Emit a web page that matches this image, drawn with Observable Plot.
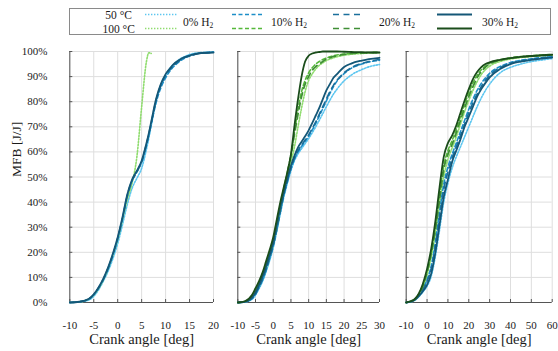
<!DOCTYPE html>
<html>
<head>
<meta charset="utf-8">
<script src="https://cdn.jsdelivr.net/npm/d3@7"></script>
<script src="https://cdn.jsdelivr.net/npm/@observablehq/plot@0.6"></script>
<style>
  html, body { margin: 0; padding: 0; background: #fff; }
  #chart { position: relative; width: 558px; height: 351px; overflow: hidden; font-family: 'Liberation Serif', 'Times New Roman', serif; color: #1a1a1a; }
  #chart svg.panel { position: absolute; top: 0; background: transparent !important; overflow: visible; }
  #chart svg.panel, #chart svg.panel text, #chart svg.panel g { font-family: 'Liberation Serif', 'Times New Roman', serif !important; }
  #legend { position: absolute; left: 69px; top: 8px; width: 482px; height: 27px; box-sizing: border-box; border: 1px solid #8a8a8a; background: #fff; }
</style>
</head>
<body>
<div id="chart"><div id="legend"></div></div>
<script>
// ---------- data ----------
const yTicks = [0, 10, 20, 30, 40, 50, 60, 70, 80, 90, 100];
const xTicks1 = [-10, -5, 0, 5, 10, 15, 20];
const xTicks2 = [-10, -5, 0, 5, 10, 15, 20, 25, 30];
const xTicks3 = [-10, 0, 10, 20, 30, 40, 50, 60];

const seriesNames = ["0% H", "10% H", "20% H", "30% H"];
const tempNames = ["50 °C", "100 °C"];

// Panel 1
const p1_x   = [-10,-8,-6,-5,-4,-3,-2,-1,0,1,2,3,4,5,6,6.5,7,8,9,10,11,12,13,14,15,17,20];
const p1_b0  = [0,0.2,1,2.5,5,8.5,12.5,17.5,23.5,31,39,45.5,49.5,53.5,61,65.5,70.5,80,86.5,90.5,93.5,95.5,97,98,98.8,99.5,99.8];
const p1_b10 = [0,0.3,1.4,3.1,5.8,9.2,13.6,19,25.5,33.5,42.5,48.5,52,56,62.5,66.5,71,79.5,85.5,89.5,92.5,94.6,96.2,97.4,98.2,99.3,99.8];
const p1_b20 = [0,0.3,1.4,3.1,5.8,9.2,13.6,19,25.5,33.5,42.5,48.5,52,56,63,67,71.5,80.5,86.5,90.5,93,95,96.5,97.6,98.3,99.2,99.6];
const p1_b30 = [0,0.3,1.5,3.3,6,9.5,14,19.5,26,34,43,49,52.5,56.5,63.5,67.5,72,81,87,91,93.5,95.5,96.8,97.8,98.4,99.3,99.6];
const p1_g0  = [0,0.3,1.4,3,5.5,9,13.5,19,25,33,41,47.5,58,78,96,99.5,99.2,null,null,null,null,null,null,null,null,null,null];

// Panel 2
const p2_x   = [-10,-8,-6,-5,-4,-3,-2,-1,0,1,2,3,4,5,6,7,8,9,10,11,12,13,14,15,16,17,18,20,22,25,27,30];
const p2_b0  = [0,0.2,1.3,3,5.5,8.5,12.3,16.8,21.8,28.3,35.3,42,47.5,52.5,56.5,59.2,61.3,63.3,65.3,67.6,70,72.6,75.3,78,80.6,83,85,88.3,90.6,92.8,93.9,94.8];
const p2_b10 = [0,0.3,1.5,3.3,6,9,13,17.5,22.5,29,36,42.8,48.3,53.2,57.2,60,62.2,64.2,66.2,68.7,71.4,74.3,77.3,80.3,83.3,86,88.2,91.2,93.3,95,95.8,96.5];
const p2_b20 = [0,0.3,1.6,3.4,6.2,9.3,13.3,17.8,22.8,29.3,36.3,43,48.5,53.5,57.5,60.5,62.7,64.7,66.8,69.3,72,75,78,81,84,86.5,88.5,91.5,93.5,95.2,96,96.8];
const p2_b30 = [0,0.3,2,4,7,10.5,14.5,19,24,31,38,44,49.5,54.5,58.5,61.8,64,66.2,68.6,71.5,74.5,77.5,81,84.5,87,89.5,91,93.8,95.2,96.4,97,97.5];
const p2_g0  = [0,0.3,2,4,6.5,9.5,13.5,18,23,29.5,37,44,50,56,62,70,77.5,84,88.5,91,93,94.5,95.5,96.4,97,97.5,97.9,98.5,98.9,99.2,99.4,99.5];
const p2_g10 = [0,0.4,2.6,5,7.8,11.3,15.5,20,25,31.5,38.5,45.5,52,59,68,77,84,88.5,91.5,93.5,95,96,96.8,97.4,97.9,98.3,98.6,99,99.3,99.5,99.6,99.7];
const p2_g20 = [0,0.4,2.5,4.8,7.5,11,15,19.5,24.5,31,38,45,51.5,58.5,67,75,82,87,90,92.5,94,95,96,97,97.5,98,98.3,98.8,99.2,99.4,99.5,99.6];
const p2_g30 = [0,0.5,3,5.7,8.5,12,16.5,21,26,33,40,46,52,59,70.5,81,90,96,98.3,99.2,99.6,99.8,100,100,100,100,100,99.9,99.8,99.7,99.6,99.6];

// Panel 3
const p3_x   = [-10,-8,-6,-4,-2,0,2,4,6,8,10,12,14,16,18,20,22,24,26,28,30,35,40,45,50,55,60];
const p3_b0  = [0,0.2,0.8,2.2,4.2,6.5,10.5,18.5,29,40,47.5,53.5,58,62,66,70,74,78,81.5,84.5,87,91.5,93.7,95,96,96.6,97.2];
const p3_b10 = [0,0.3,1.1,2.9,5.5,9,14.5,24,36,47,54,59,63.5,68,72.5,77,81,84.5,87.3,89.5,91.3,94,95.6,96.5,97.1,97.6,98];
const p3_b20 = [0,0.3,1.1,2.8,5.2,8.5,13.5,22.5,34,45,52,57.5,62,66.5,71,75.5,79.5,83,86,88.5,90.5,93.5,95.3,96.2,96.9,97.4,97.8];
const p3_b30 = [0,0.3,1,2.5,4.5,7,11.5,20,31,42,49,56,60.5,65,70,74,78,82,85,87.5,89.7,93,95,96,96.7,97.2,97.6];
const p3_g0  = [0,0.3,1,2.8,6,11,18,27.5,39,50,57,61.5,66,71,76,80.5,84.5,88,90.8,92.8,94.2,96,97,97.6,98,98.3,98.5];
const p3_g10 = [0,0.4,1.2,3.2,7,12.5,20.3,30.5,43,54.5,60.5,64.5,69,74,79,83.5,87.5,90.5,92.7,94.2,95.3,96.7,97.5,98,98.3,98.6,98.8];
const p3_g20 = [0,0.4,1.1,3,6.5,12,19.5,29,41,53,59,63,67.5,72.5,77.5,82,86,89.5,92,93.8,95,96.5,97.3,97.8,98.1,98.4,98.6];
const p3_g30 = [0,0.5,1.3,3.5,7.5,13.4,21.5,32.5,46,58,63.5,66.5,70.5,75.5,80.5,85,89,91.8,93.8,95,95.7,96.7,97.4,97.9,98.2,98.5,98.7];

// ---------- styles ----------
const styleOf = {
  b0:  {stroke: "#5cc6f0", dash: "1.4,1.6", w: 1.6},
  g0:  {stroke: "#8fdc6e", dash: "1.4,1.6", w: 1.6},
  b10: {stroke: "#1c8ec8", dash: "4,2.5", w: 1.6},
  g10: {stroke: "#55b83a", dash: "4,2.5", w: 1.6},
  b20: {stroke: "#1a6f9c", dash: "6,4.5", w: 1.7},
  g20: {stroke: "#3f8e35", dash: "6,4.5", w: 1.7},
  b30: {stroke: "#145777", dash: null, w: 1.8},
  g30: {stroke: "#1b4d1b", dash: null, w: 1.8}
};
const drawOrder = ["b0", "g0", "b10", "g10", "b20", "g20", "b30", "g30"];

const FONT = "'Liberation Serif', 'Times New Roman', serif";
const H = 351, MT = 51, MB = 49;

function rows(xs, ys) {
  return xs.map((x, i) => ({x, y: ys[i]})).filter(d => d.y != null);
}

function panel({left, width, mL, mR, xDomain, xTicks, series, showY}) {
  const plotW = width - mL - mR;
  const plotH = H - MT - MB;
  const marks = [
    Plot.gridX(xTicks, {stroke: "#dedede", strokeOpacity: 1}),
    Plot.gridY(yTicks, {stroke: "#dedede", strokeOpacity: 1}),
    Plot.ruleX([xDomain[0]], {stroke: "#555"}),
    Plot.ruleY([0], {stroke: "#555"}),
    Plot.tickY(yTicks, {y: d => d, insetRight: plotW - 3, stroke: "#555"}),
    Plot.tickX(xTicks, {x: d => d, insetTop: plotH - 3, stroke: "#555"}),
    Plot.axisX(xTicks, {tickSize: 0, tickPadding: 19, tickFormat: d => String(d), label: null, fontSize: 11}),
    Plot.text(["Crank angle [deg]"], {frameAnchor: "bottom", dy: 41.5, fontSize: 14.5})
  ];
  for (const key of drawOrder) {
    if (!series[key]) continue;
    const s = styleOf[key];
    marks.push(Plot.line(series[key], {x: "x", y: "y", stroke: s.stroke, strokeWidth: s.w,
      strokeDasharray: s.dash || undefined, curve: "monotone-x"}));
  }
  if (showY) {
    marks.push(Plot.axisY(yTicks, {tickSize: 0, tickPadding: 22.5, tickFormat: d => d + "%", label: null, fontSize: 11}));
    marks.push(Plot.text(["MFB [J/J]"], {frameAnchor: "left", dx: -53, rotate: -90, fontSize: 13.5}));
  }
  const svg = Plot.plot({
    width, height: H,
    marginLeft: mL, marginRight: mR, marginTop: MT, marginBottom: MB,
    x: {domain: xDomain},
    y: {domain: [0, 100], axis: showY ? undefined : null},
    style: {fontFamily: FONT, background: "transparent", overflow: "visible", color: "#1a1a1a"},
    marks
  });
  svg.classList.add("panel");
  svg.style.left = left + "px";
  return svg;
}

const chart = document.getElementById("chart");
chart.appendChild(panel({
  left: 0, width: 220, mL: 69.3, mR: 7, xDomain: [-10, 20], xTicks: xTicks1, showY: true,
  series: {b0: rows(p1_x, p1_b0), b10: rows(p1_x, p1_b10), b20: rows(p1_x, p1_b20), b30: rows(p1_x, p1_b30), g0: rows(p1_x, p1_g0)}
}));
chart.appendChild(panel({
  left: 225, width: 160, mL: 12.3, mR: 6, xDomain: [-10, 30], xTicks: xTicks2, showY: false,
  series: {b0: rows(p2_x, p2_b0), b10: rows(p2_x, p2_b10), b20: rows(p2_x, p2_b20), b30: rows(p2_x, p2_b30),
           g0: rows(p2_x, p2_g0), g10: rows(p2_x, p2_g10), g20: rows(p2_x, p2_g20), g30: rows(p2_x, p2_g30)}
}));
chart.appendChild(panel({
  left: 390, width: 168, mL: 15.7, mR: 6.3, xDomain: [-10, 60], xTicks: xTicks3, showY: false,
  series: {b0: rows(p3_x, p3_b0), b10: rows(p3_x, p3_b10), b20: rows(p3_x, p3_b20), b30: rows(p3_x, p3_b30),
           g0: rows(p3_x, p3_g0), g10: rows(p3_x, p3_g10), g20: rows(p3_x, p3_g20), g30: rows(p3_x, p3_g30)}
}));

// ---------- legend ----------
const legendDiv = document.getElementById("legend");
const NS = "http://www.w3.org/2000/svg";
const lsvg = document.createElementNS(NS, "svg");
lsvg.setAttribute("width", 480); lsvg.setAttribute("height", 25);
lsvg.style.fontFamily = FONT; lsvg.style.fontSize = "11.5px";
legendDiv.appendChild(lsvg);
const ox = 70, oy = 9;
function el(name, attrs, text) {
  const e = document.createElementNS(NS, name);
  for (const k in attrs) e.setAttribute(k, attrs[k]);
  if (text != null) e.textContent = text;
  lsvg.appendChild(e);
  return e;
}
el("text", {x: 118.7 - ox, y: 19 - oy, "text-anchor": "middle", fill: "#1a1a1a"}, tempNames[0]);
el("text", {x: 118.7 - ox, y: 32.5 - oy, "text-anchor": "middle", fill: "#1a1a1a"}, tempNames[1]);
const legendPos = [
  {x1: 145, x2: 178, tx: 183, keys: ["b0", "g0"]},
  {x1: 232, x2: 264, tx: 271, keys: ["b10", "g10"]},
  {x1: 333, x2: 363, tx: 379, keys: ["b20", "g20"]},
  {x1: 437, x2: 472, tx: 482, keys: ["b30", "g30"]}
];
legendPos.forEach((p, i) => {
  [14.5, 28.5].forEach((yy, j) => {
    const s = styleOf[p.keys[j]];
    const a = {x1: p.x1 - ox, x2: p.x2 - ox, y1: yy - oy, y2: yy - oy, stroke: s.stroke, "stroke-width": s.w};
    if (s.dash) a["stroke-dasharray"] = s.dash;
    el("line", a);
  });
  const t = el("text", {x: p.tx - ox, y: 25.5 - oy, fill: "#1a1a1a"}, seriesNames[i]);
  const sub = document.createElementNS(NS, "tspan");
  sub.setAttribute("font-size", "7.5px"); sub.setAttribute("dy", "2");
  sub.textContent = "2";
  t.appendChild(sub);
});
</script>
</body>
</html>
